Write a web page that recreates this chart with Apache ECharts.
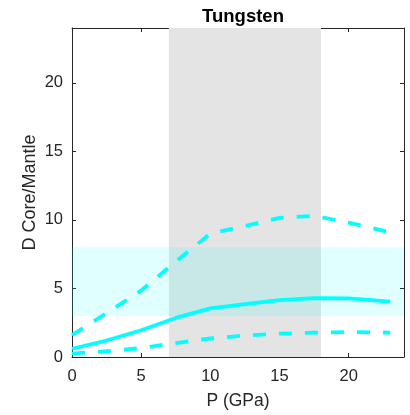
<!DOCTYPE html>
<html>
<head>
<meta charset="utf-8">
<script src="https://cdn.jsdelivr.net/npm/echarts@6/dist/echarts.min.js"></script>
<style>
  html, body { margin: 0; padding: 0; background: #fff; }
  #chart { width: 410px; height: 415px; }
</style>
</head>
<body>
<div id="chart"></div>
<script>
// Pressure grid (GPa) and core/mantle partition coefficients for tungsten
const pressure = [0, 2.5, 5, 7.5, 10, 12.5, 15, 17.5, 20, 23];
const dMedian  = [0.6, 1.2, 1.95, 2.85, 3.55, 3.85, 4.15, 4.3, 4.28, 4.04];
const dUpper   = [1.6, 3.2, 4.85, 6.95, 9.0, 9.55, 10.15, 10.3, 9.8, 9.1];
const dLower   = [0.25, 0.42, 0.65, 1.02, 1.35, 1.57, 1.7, 1.78, 1.82, 1.78];

// Shaded ranges: pressure window and observed D range
const pressureBand = [7, 18];
const observedBand = [3, 8];

// Axis extents and tick values
const xRange = [0, 24];
const yRange = [0, 24];
const tickStep = 5;

const pairs = (ys) => pressure.map((p, i) => [p, ys[i]]);

const axisColor = '#262626';
const font = 'Liberation Sans, Arial, Helvetica, sans-serif';

const chart = echarts.init(document.getElementById('chart'), null, { renderer: 'canvas' });

const baseAxis = {
  min: 0, interval: tickStep,
  axisLine: { show: true, onZero: false, lineStyle: { color: axisColor, width: 1 } },
  axisTick: { show: true, inside: true, length: 4, lineStyle: { color: axisColor } },
  splitLine: { show: false }
};

const lineCommon = {
  type: 'line', showSymbol: false, symbol: 'none', z: 5,
  animation: false
};

const dashed = { color: '#00ffff', width: 3.8, type: [13, 13], cap: 'butt' };

chart.setOption({
  animation: false,
  title: {
    text: 'Tungsten', left: 238, top: 2, textAlign: 'center',
    textStyle: { fontFamily: font, fontWeight: 'bold', fontSize: 18.5, color: '#000' }
  },
  grid: { left: 72, right: 6, top: 28, bottom: 55, containLabel: false },
  xAxis: [
    Object.assign({}, baseAxis, {
      type: 'value', position: 'bottom', max: xRange[1], min: xRange[0],
      name: 'P (GPa)', nameLocation: 'middle', nameGap: 35,
      nameMoveOverlap: false,
      nameTextStyle: { fontFamily: font, fontSize: 17.5, color: axisColor },
      axisLabel: {
        fontFamily: font, fontSize: 16.5, color: axisColor, margin: 11,
        formatter: (v) => (v >= 24 ? '' : String(v))
      }
    }),
    Object.assign({}, baseAxis, {
      type: 'value', position: 'top', max: xRange[1], min: xRange[0],
      axisLabel: { show: false }
    })
  ],
  yAxis: [
    Object.assign({}, baseAxis, {
      type: 'value', position: 'left', max: yRange[1], min: yRange[0],
      name: 'D Core/Mantle', nameLocation: 'middle', nameGap: 42,
      nameMoveOverlap: false,
      nameTextStyle: { fontFamily: font, fontSize: 18, color: axisColor, verticalAlign: 'middle' },
      axisLabel: {
        fontFamily: font, fontSize: 16.5, color: axisColor, margin: 9,
        formatter: (v) => (v >= 24 ? '' : String(v))
      }
    }),
    Object.assign({}, baseAxis, {
      type: 'value', position: 'right', max: yRange[1], min: yRange[0],
      axisLabel: { show: false }
    })
  ],
  series: [
    {
      // pressure window shading
      type: 'line', data: [], z: 1, silent: true,
      markArea: {
        silent: true,
        itemStyle: { color: '#e4e4e4' },
        data: [[{ xAxis: pressureBand[0], yAxis: yRange[0] }, { xAxis: pressureBand[1], yAxis: yRange[1] }]]
      }
    },
    {
      // observed D range shading
      type: 'line', data: [], z: 2, silent: true,
      markArea: {
        silent: true,
        itemStyle: { color: 'rgba(0,255,255,0.12)' },
        data: [[{ xAxis: xRange[0], yAxis: observedBand[0] }, { xAxis: xRange[1], yAxis: observedBand[1] }]]
      }
    },
    Object.assign({}, lineCommon, {
      name: 'upper', data: pairs(dUpper), lineStyle: dashed
    }),
    Object.assign({}, lineCommon, {
      name: 'median', data: pairs(dMedian),
      lineStyle: { color: '#00ffff', width: 3.8, type: 'solid' }
    }),
    Object.assign({}, lineCommon, {
      name: 'lower', data: pairs(dLower), lineStyle: dashed
    })
  ]
});
</script>
</body>
</html>
